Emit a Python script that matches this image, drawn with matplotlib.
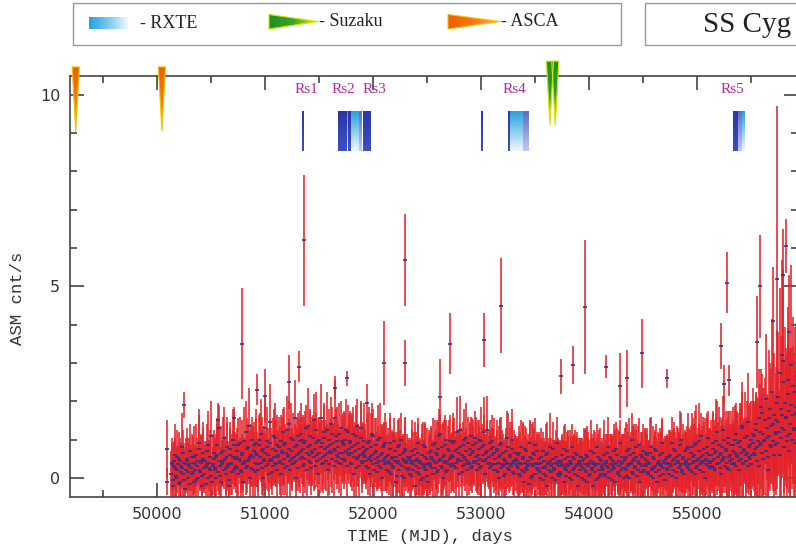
import numpy as np
import matplotlib
matplotlib.use('Agg')
import matplotlib.pyplot as plt
from matplotlib.colors import LinearSegmentedColormap
from matplotlib.patches import Rectangle, Polygon
from matplotlib.ticker import MultipleLocator

# ---------------- data ----------------
t_start = 50130   # MJD of first sample of series A
t_start_b = 50135 # MJD of first sample of series B (interleaved)
t_step = 10       # days between samples within a series

rate_rows = [
    [0.1, 0.4, -0.2, 0.3, 0.6, 0.0, 0.2, 0.5, -0.1, 0.3, 0.8, 0.1, 0.4, -0.3, 0.2, 0.5, 0.0, 0.3, 0.7, 0.1],
    [0.4, -0.1, 0.2, 0.6, 0.3, 0.0, 0.9, 0.2, 0.4, -0.2, 0.5, 0.1, 0.3, 0.7, 0.0, 0.4, 0.2, 1.1, -0.1, 0.3],
    [0.5, 0.2, 0.0, 0.6, 1.3, 0.3, -0.1, 0.4, 0.7, 0.2, 0.5, 0.1, 0.8, 0.3, -0.2, 0.6, 0.4, 1.0, 0.2, 0.5],
    [0.3, 0.7, 0.1, 0.5, 0.9, 0.2, 0.6, -0.1, 0.4, 1.2, 0.3, 0.8, 0.5, 0.0, 0.6, 1.0, 0.2, 0.7, 0.4, 0.9],
    [0.6, 0.2, 1.0, 0.4, 0.7, 0.0, 0.5, 1.3, 0.3, 0.8, 0.6, 0.1, 0.9, 0.5, 0.3, 1.1, 0.4, 0.7, 0.2, 0.6],
    [0.8, 0.4, 0.1, 0.7, 1.2, 0.5, 0.9, 0.3, 0.6, 1.4, 0.2, 0.7, 0.5, 1.0, 0.4, 0.8, 0.0, 0.6, 1.1, 0.5],
    [0.7, 1.0, 0.3, 0.9, 0.5, 1.3, 0.2, 0.8, 0.6, 1.1, 0.4, 0.7, 1.5, 0.3, 0.9, 0.6, 0.1, 1.0, 0.5, 0.8],
    [0.9, 0.4, 1.2, 0.6, 0.8, 0.2, 1.0, 0.7, 1.4, 0.5, 0.9, 0.3, 0.7, 1.1, 0.6, 0.8, 0.4, 1.3, 0.5, 0.9],
    [0.5, 1.0, 0.7, 0.3, 1.2, 0.6, 0.9, 0.4, 0.8, 0.1, 0.7, 1.1, 0.5, 0.9, 0.3, 0.6, 1.3, 0.4, 0.8, 0.6],
    [0.7, 0.3, 0.9, 0.5, 0.1, 0.8, 0.6, 1.1, 0.2, 0.5, 0.7, 0.4, 1.0, 0.3, 0.6, 0.0, 0.8, 0.5, 0.9, 0.4],
    [0.2, 0.6, 0.4, 0.9, 0.1, 0.5, 0.3, 0.7, -0.1, 0.4, 0.8, 0.2, 0.6, 1.0, 0.3, 0.5, 0.0, 0.7, 0.4, 0.2],
    [0.5, 0.1, 0.4, 0.7, 0.2, 0.6, -0.2, 0.3, 0.5, 0.9, 0.1, 0.4, 0.6, 0.0, 0.3, 0.8, 0.2, 0.5, -0.1, 0.4],
    [0.3, 0.7, 0.5, 0.1, 0.9, 0.4, 0.6, 0.2, 1.1, 0.5, 0.3, 0.8, 0.0, 0.6, 0.4, 1.0, 0.2, 0.7, 0.5, 0.3],
    [0.6, 0.9, 0.3, 0.7, 0.4, 1.2, 0.5, 0.1, 0.8, 0.6, 0.3, 1.0, 0.5, 0.7, 0.2, 0.9, 0.4, 0.6, 1.1, 0.3],
    [0.7, 0.4, 0.9, 0.2, 0.6, 1.0, 0.5, 0.3, 0.8, 0.6, 1.2, 0.1, 0.5, 0.7, 0.4, 0.9, 0.3, 0.6, 0.8, 0.2],
    [0.5, 0.2, 0.7, 0.4, 0.0, 0.6, 0.9, 0.3, 0.5, 0.1, 0.7, 0.4, 0.8, 0.2, 0.6, 0.3, 1.0, 0.4, 0.1, 0.5],
    [0.3, 0.6, 0.1, 0.4, 0.8, 0.2, 0.5, -0.1, 0.4, 0.7, 0.2, 0.3, 0.9, 0.0, 0.5, 0.3, 0.6, 0.1, 0.4, 0.7],
    [0.2, 0.5, 0.0, 0.4, 0.7, 0.1, 0.3, 0.6, -0.2, 0.4, 0.2, 0.8, 0.3, 0.0, 0.5, 0.2, 0.4, 0.9, 0.1, 0.3],
    [0.4, 0.1, 0.6, 0.3, -0.1, 0.5, 0.2, 0.7, 0.3, 0.0, 0.4, 0.8, 0.2, 0.5, 0.1, 0.3, 0.6, -0.2, 0.4, 0.2],
    [0.3, 0.0, 0.5, 0.2, 0.6, -0.1, 0.3, 0.4, 0.1, 0.7, 0.2, -0.2, 0.4, 0.3, 0.8, 0.0, 0.2, 0.5, 0.1, 0.3],
    [0.2, 0.6, 0.1, 0.4, 0.3, 0.8, 0.0, 0.5, 0.2, 0.3, 0.7, -0.1, 0.4, 0.6, 0.1, 0.3, 0.9, 0.2, 0.4, 0.0],
    [0.5, 0.2, 0.7, 0.3, 0.0, 0.6, 0.4, 1.0, 0.1, 0.5, 0.3, 0.8, 0.2, 0.4, -0.1, 0.6, 0.3, 0.7, 0.2, 0.5],
    [0.3, 0.6, 0.1, 0.4, 0.8, 0.2, 0.0, 0.5, 0.3, 0.7, -0.1, 0.4, 0.2, 0.6, 0.3, 0.9, 0.1, 0.4, 0.5, 0.2],
    [0.4, 0.1, 0.6, 0.3, 0.9, 0.2, 0.5, 0.7, 0.0, 0.4, 0.6, 0.3, 1.0, 0.2, 0.5, 0.1, 0.7, 0.4, 0.3, 0.8],
    [0.5, 0.2, 0.8, 0.4, 0.6, 0.1, 0.9, 0.3, 0.5, 0.7, 0.2, 1.1, 0.4, 0.6, 0.0, 0.5, 0.8, 0.3, 0.6, 0.4],
    [0.6, 0.3, 0.9, 0.5, 0.2, 0.7, 1.2, 0.4, 0.6, 0.1, 0.8, 0.5, 1.0, 0.3, 0.7, 0.4, 0.9, 0.2, 0.6, 0.5],
    [0.7, 0.4, 1.0, 0.3, 0.6, 0.9, 0.2, 0.8, 0.5, 1.3, 0.4, 0.7, 0.6, 1.1, 0.3, 0.8, 0.5, 1.0, 0.6, 0.9],
    [1.1, 0.6, 1.4, 0.8, 0.3, 1.2, 0.9, 1.7, 0.5, 1.0, 1.5, 0.7, 1.3, 0.2, 1.1, 1.8, 0.8, 1.4, 0.6, 1.2],
    [1.5, 0.9, 2.1, 1.2, 0.6, 1.8, 1.3, 2.5, 0.8, 1.6, 1.1, 2.2, 0.7, 1.4, 1.9, 1.0, 2.4, 1.3, 0.9, 1.7],
]

err_rows = [
    [0.6, 0.5, 0.7, 0.6, 0.8, 0.5, 0.6, 0.7, 0.5, 0.6, 0.9, 0.6, 0.5, 0.7, 0.6, 0.8, 0.5, 0.6, 0.7, 0.6],
    [0.7, 0.5, 0.6, 0.8, 0.5, 0.6, 0.9, 0.5, 0.7, 0.6, 0.8, 0.5, 0.6, 0.7, 0.5, 0.6, 0.8, 0.9, 0.6, 0.5],
    [0.6, 0.7, 0.5, 0.8, 0.6, 0.5, 0.7, 0.6, 0.9, 0.5, 0.6, 0.7, 0.8, 0.5, 0.6, 0.7, 0.6, 0.8, 0.5, 0.7],
    [0.7, 0.6, 0.8, 0.5, 0.7, 0.6, 0.9, 0.6, 0.5, 0.8, 0.7, 0.6, 0.5, 0.7, 0.8, 0.6, 0.7, 0.5, 0.6, 0.9],
    [0.6, 0.8, 0.7, 0.5, 0.9, 0.6, 0.7, 0.8, 0.6, 0.5, 0.7, 0.9, 0.6, 0.8, 0.5, 0.7, 0.6, 0.8, 0.7, 0.6],
    [0.8, 0.6, 0.7, 0.9, 0.6, 0.7, 0.5, 0.8, 0.7, 0.6, 0.9, 0.6, 0.8, 0.7, 0.5, 0.6, 0.8, 0.7, 0.6, 0.9],
    [0.7, 0.6, 0.8, 0.7, 0.9, 0.6, 0.7, 0.5, 0.8, 0.7, 0.6, 0.9, 0.7, 0.6, 0.8, 0.5, 0.7, 0.6, 0.9, 0.7],
    [0.6, 0.8, 0.7, 0.9, 0.6, 0.7, 0.8, 0.6, 0.7, 0.9, 0.5, 0.8, 0.6, 0.7, 0.9, 0.6, 0.8, 0.7, 0.6, 0.8],
    [0.8, 0.7, 0.6, 0.9, 0.7, 0.5, 0.8, 0.6, 0.9, 0.7, 0.6, 0.8, 0.7, 0.5, 0.9, 0.6, 0.7, 0.8, 0.6, 0.7],
    [0.7, 0.6, 0.8, 0.5, 0.7, 0.9, 0.6, 0.7, 0.8, 0.6, 0.5, 0.7, 0.9, 0.6, 0.8, 0.7, 0.6, 0.5, 0.8, 0.7],
    [0.6, 0.7, 0.5, 0.8, 0.6, 0.7, 0.9, 0.5, 0.6, 0.8, 0.7, 0.6, 0.5, 0.7, 0.8, 0.6, 0.7, 0.9, 0.5, 0.6],
    [0.5, 0.7, 0.6, 0.8, 0.5, 0.6, 0.7, 0.9, 0.6, 0.5, 0.7, 0.6, 0.8, 0.5, 0.7, 0.6, 0.5, 0.8, 0.6, 0.7],
    [0.7, 0.6, 0.5, 0.8, 0.6, 0.7, 0.9, 0.6, 0.7, 0.5, 0.8, 0.6, 0.7, 0.9, 0.6, 0.5, 0.7, 0.8, 0.6, 0.7],
    [0.6, 0.8, 0.7, 0.5, 0.7, 0.9, 0.6, 0.8, 0.6, 0.7, 0.5, 0.8, 0.7, 0.6, 0.9, 0.7, 0.6, 0.8, 0.5, 0.7],
    [0.8, 0.6, 0.7, 0.6, 0.9, 0.5, 0.7, 0.8, 0.6, 0.7, 0.9, 0.6, 0.5, 0.8, 0.7, 0.6, 0.8, 0.7, 0.5, 0.6],
    [0.6, 0.7, 0.8, 0.5, 0.6, 0.9, 0.7, 0.6, 0.5, 0.8, 0.6, 0.7, 0.9, 0.6, 0.7, 0.5, 0.8, 0.6, 0.7, 0.6],
    [0.7, 0.5, 0.6, 0.8, 0.7, 0.6, 0.9, 0.5, 0.7, 0.6, 0.8, 0.7, 0.6, 0.5, 0.9, 0.6, 0.7, 0.8, 0.6, 0.5],
    [0.5, 0.7, 0.6, 0.9, 0.5, 0.7, 0.6, 0.8, 0.6, 0.5, 0.7, 0.9, 0.6, 0.7, 0.5, 0.8, 0.6, 0.7, 0.9, 0.6],
    [0.6, 0.8, 0.5, 0.7, 0.6, 0.9, 0.7, 0.5, 0.8, 0.6, 0.7, 0.6, 0.9, 0.5, 0.7, 0.8, 0.6, 0.7, 0.5, 0.8],
    [0.7, 0.6, 0.8, 0.5, 0.7, 0.6, 0.9, 0.6, 0.7, 0.8, 0.5, 0.7, 0.6, 0.9, 0.6, 0.7, 0.5, 0.8, 0.7, 0.6],
    [0.6, 0.9, 0.7, 0.6, 0.5, 0.8, 0.7, 0.6, 0.9, 0.5, 0.7, 0.8, 0.6, 0.7, 0.5, 0.9, 0.6, 0.8, 0.7, 0.5],
    [0.8, 0.6, 0.7, 0.9, 0.6, 0.5, 0.8, 0.7, 0.6, 0.9, 0.7, 0.6, 0.8, 0.5, 0.7, 0.6, 0.9, 0.7, 0.6, 0.8],
    [0.6, 0.7, 0.9, 0.6, 0.8, 0.5, 0.7, 0.6, 0.9, 0.7, 0.6, 0.8, 0.5, 0.7, 0.9, 0.6, 0.8, 0.7, 0.6, 0.7],
    [0.7, 0.8, 0.6, 0.9, 0.7, 0.6, 0.8, 0.5, 0.7, 0.9, 0.6, 0.8, 0.7, 0.6, 0.9, 0.7, 0.5, 0.8, 0.6, 0.9],
    [0.8, 0.7, 0.9, 0.6, 0.8, 0.7, 1.0, 0.6, 0.8, 0.7, 0.9, 0.6, 0.8, 1.0, 0.7, 0.6, 0.9, 0.8, 0.7, 0.9],
    [0.9, 0.7, 0.8, 1.0, 0.7, 0.9, 0.8, 0.6, 1.0, 0.8, 0.7, 0.9, 1.1, 0.7, 0.8, 0.9, 0.7, 1.0, 0.8, 0.9],
    [0.8, 1.0, 0.9, 0.7, 1.1, 0.8, 0.9, 1.0, 0.7, 1.2, 0.9, 0.8, 1.0, 0.9, 0.7, 1.1, 0.8, 1.0, 0.9, 1.1],
    [0.9, 1.1, 0.8, 1.3, 1.0, 0.9, 1.2, 1.0, 1.4, 0.8, 1.1, 1.3, 0.9, 1.5, 1.0, 1.2, 0.9, 1.6, 1.1, 1.0],
    [1.4, 1.2, 1.7, 1.1, 1.5, 1.9, 1.3, 1.6, 1.2, 1.8, 1.4, 1.7, 1.1, 2.0, 1.5, 1.3, 1.8, 1.4, 1.6, 1.2],
]

rate_rows_b = [
    [0.35, -0.05, 0.45, 0.25, 0.05, 0.55, 0.35, -0.15, 0.45, 0.15, 0.25, 0.65, -0.05, 0.35, 0.45, 0.15, 0.35, -0.15, 0.25, 0.55],
    [0.15, 0.55, 0.35, -0.05, 0.45, 0.75, 0.15, 0.45, 0.05, 0.65, 0.25, 0.45, -0.15, 0.35, 0.85, 0.25, 0.55, 0.05, 0.35, 0.65],
    [0.25, 0.55, 0.85, 0.15, 0.45, 0.05, 0.65, 0.35, 0.45, 1.05, 0.25, 0.55, 0.35, -0.05, 0.75, 0.35, 0.15, 0.55, 0.85, 0.25],
    [0.55, 0.25, 0.85, 0.45, 0.15, 0.65, 0.35, 0.95, 0.45, 0.25, 0.75, 0.45, 1.35, 0.55, 0.25, 0.55, 0.85, 0.15, 0.65, 0.35],
    [0.35, 0.85, 0.55, 1.15, 0.25, 0.75, 0.45, 0.65, 0.95, 0.35, 0.45, 1.45, 0.45, 0.15, 0.75, 0.55, 1.05, 0.35, 0.85, 0.55],
    [0.45, 0.95, 0.65, 0.35, 0.85, 0.25, 0.65, 1.25, 0.55, 0.75, 0.45, 1.05, 0.35, 0.55, 1.55, 0.45, 0.85, 0.25, 0.65, 0.95],
    [1.15, 0.55, 0.75, 0.35, 0.95, 0.65, 1.35, 0.45, 0.85, 0.25, 0.65, 1.05, 0.55, 0.75, 1.25, 0.45, 0.95, 0.65, 1.55, 0.35],
    [0.55, 1.05, 0.75, 0.45, 1.25, 0.65, 0.35, 0.85, 0.65, 1.15, 0.75, 1.55, 0.45, 0.95, 0.55, 1.15, 0.65, 0.35, 0.95, 0.65],
    [0.85, 0.45, 1.25, 0.65, 0.75, 0.95, 0.35, 0.65, 1.15, 0.55, 0.85, 0.25, 1.35, 0.55, 0.75, 1.05, 0.45, 0.65, 0.95, 0.55],
    [0.45, 0.75, 0.25, 0.95, 0.55, 0.45, 1.15, 0.35, 0.65, 0.85, 0.15, 0.55, 0.45, 1.05, 0.25, 0.65, 0.45, 0.85, 0.35, 0.55],
    [0.45, 0.15, 0.75, 0.35, 0.55, 0.25, 0.95, 0.45, 0.55, 0.05, 0.45, 0.85, 0.35, 0.05, 0.65, 0.45, 0.75, 0.25, 0.45, 0.55],
    [0.25, 0.55, 0.05, 0.45, 0.35, 0.75, 0.45, 0.15, 0.65, 0.25, 0.45, -0.05, 0.35, 0.85, 0.25, 0.55, 0.35, 0.05, 0.65, 0.35],
    [0.55, 0.25, 0.85, 0.45, 0.25, 0.65, 0.15, 0.75, 0.45, 1.15, 0.25, 0.55, 0.45, 0.85, 0.15, 0.45, 0.75, 0.35, 0.95, 0.55],
    [0.35, 0.55, 0.95, 0.25, 0.75, 0.45, 0.65, 1.25, 0.45, 0.15, 0.85, 0.55, 0.35, 1.05, 0.45, 0.35, 0.75, 0.25, 0.65, 0.85],
    [0.45, 1.05, 0.55, 0.45, 0.35, 0.75, 0.25, 0.95, 0.45, 0.85, 0.45, 0.65, 1.25, 0.35, 0.55, 0.25, 0.75, 0.95, 0.35, 0.65],
    [0.35, 0.75, 0.15, 0.55, 0.85, 0.25, 0.35, 0.65, 0.05, 0.45, 0.35, 1.05, 0.25, 0.55, 0.35, 0.75, 0.15, 0.45, 0.65, 0.35],
    [0.45, 0.25, 0.65, 0.05, 0.35, 0.55, 0.15, 0.75, 0.25, 0.35, 0.45, -0.15, 0.55, 0.35, 0.05, 0.65, 0.35, 0.85, 0.25, 0.35],
    [0.35, 0.15, 0.55, 0.25, -0.05, 0.45, 0.25, 0.05, 0.65, 0.35, 0.45, 0.15, 0.35, 0.75, 0.25, -0.05, 0.55, 0.35, 0.45, 0.05],
    [0.15, 0.45, 0.35, 0.75, 0.25, 0.05, 0.35, 0.55, 0.15, 0.45, 0.35, -0.05, 0.55, 0.25, 0.65, 0.35, 0.05, 0.45, 0.35, 0.55],
    [0.45, 0.25, -0.05, 0.35, 0.15, 0.55, 0.35, 0.05, 0.45, 0.25, 0.35, 0.65, 0.15, -0.05, 0.35, 0.55, 0.35, 0.05, 0.45, 0.25],
    [0.35, 0.05, 0.45, 0.65, 0.25, 0.15, 0.55, 0.35, -0.05, 0.45, 0.25, 0.35, 0.75, 0.15, 0.45, 0.05, 0.35, 0.55, 0.25, 0.45],
    [0.25, 0.55, 0.05, 0.35, 0.75, 0.35, 0.15, 0.45, 0.65, 0.25, 0.55, 0.05, 0.45, 0.85, 0.35, 0.15, 0.55, 0.15, 0.35, 0.65],
    [0.45, 0.15, 0.35, 0.65, 0.05, 0.25, 0.55, 0.25, 0.75, 0.15, 0.35, 0.45, 0.05, 0.35, 0.65, 0.25, 0.45, -0.05, 0.35, 0.55],
    [0.25, 0.55, 0.35, 0.05, 0.45, 0.75, 0.35, 0.15, 0.55, 0.45, 0.25, 0.85, 0.35, 0.15, 0.55, 0.35, 0.45, 0.75, 0.25, 0.35],
    [0.35, 0.65, 0.15, 0.55, 0.45, 0.85, 0.25, 0.45, 0.95, 0.35, 0.55, 0.45, 0.15, 0.75, 0.45, 0.35, 0.65, 1.05, 0.45, 0.25],
    [0.45, 0.75, 0.25, 0.65, 0.95, 0.35, 0.55, 0.85, 0.25, 0.65, 0.45, 1.25, 0.55, 0.75, 0.25, 1.05, 0.55, 0.45, 0.85, 0.35],
    [0.85, 0.35, 0.65, 1.15, 0.55, 0.45, 0.95, 0.65, 1.35, 0.35, 0.75, 1.05, 0.45, 0.65, 1.45, 0.55, 0.85, 0.35, 1.15, 0.65],
    [0.75, 1.25, 0.45, 0.95, 1.55, 0.85, 1.85, 0.65, 1.15, 0.95, 2.05, 1.05, 0.55, 1.55, 0.85, 1.35, 2.25, 0.95, 1.65, 0.85],
    [1.15, 1.95, 1.45, 2.75, 1.05, 1.65, 3.05, 1.25, 1.95, 1.55, 0.95, 2.55, 1.75, 1.15, 2.95, 1.65, 1.25, 2.25, 1.85, 2.65],
]

err_rows_b = [
    [0.7, 0.6, 0.5, 0.8, 0.6, 0.7, 0.5, 0.9, 0.6, 0.7, 0.5, 0.6, 0.8, 0.7, 0.6, 0.5, 0.7, 0.9, 0.6, 0.6],
    [0.6, 0.8, 0.5, 0.7, 0.6, 0.9, 0.5, 0.7, 0.6, 0.8, 0.6, 0.5, 0.7, 0.6, 0.9, 0.6, 0.7, 0.5, 0.8, 0.6],
    [0.8, 0.6, 0.7, 0.5, 0.9, 0.6, 0.7, 0.6, 0.5, 0.8, 0.7, 0.9, 0.6, 0.5, 0.7, 0.8, 0.6, 0.7, 0.9, 0.5],
    [0.6, 0.9, 0.7, 0.6, 0.8, 0.5, 0.7, 0.9, 0.6, 0.7, 0.8, 0.6, 1.0, 0.7, 0.5, 0.8, 0.6, 0.7, 0.9, 0.6],
    [0.7, 0.8, 0.6, 0.9, 0.7, 0.6, 0.8, 0.5, 0.9, 0.7, 0.6, 1.0, 0.7, 0.6, 0.8, 0.7, 0.9, 0.6, 0.8, 0.7],
    [0.9, 0.7, 0.6, 0.8, 1.0, 0.7, 0.6, 0.9, 0.7, 0.8, 0.6, 0.9, 0.7, 0.6, 1.0, 0.8, 0.7, 0.6, 0.9, 0.8],
    [0.8, 0.7, 0.9, 0.6, 0.8, 0.7, 1.0, 0.6, 0.9, 0.7, 0.8, 0.6, 0.9, 0.8, 1.0, 0.7, 0.6, 0.8, 0.9, 0.7],
    [0.7, 0.9, 0.6, 0.8, 1.0, 0.7, 0.8, 0.6, 0.9, 0.7, 0.8, 1.0, 0.6, 0.9, 0.7, 0.8, 0.6, 0.9, 0.7, 0.8],
    [0.9, 0.6, 0.8, 0.7, 0.9, 0.8, 0.6, 1.0, 0.7, 0.8, 0.6, 0.9, 0.7, 0.8, 0.6, 0.9, 0.7, 0.8, 1.0, 0.7],
    [0.6, 0.8, 0.7, 0.9, 0.6, 0.7, 0.8, 0.6, 0.9, 0.7, 0.5, 0.8, 0.7, 0.9, 0.6, 0.7, 0.8, 0.6, 0.7, 0.9],
    [0.7, 0.6, 0.8, 0.5, 0.7, 0.9, 0.6, 0.7, 0.5, 0.8, 0.6, 0.7, 0.9, 0.6, 0.5, 0.7, 0.8, 0.6, 0.7, 0.5],
    [0.6, 0.5, 0.7, 0.8, 0.6, 0.7, 0.5, 0.6, 0.9, 0.7, 0.6, 0.5, 0.8, 0.6, 0.7, 0.9, 0.5, 0.7, 0.6, 0.8],
    [0.8, 0.6, 0.7, 0.5, 0.9, 0.6, 0.8, 0.7, 0.6, 0.5, 0.7, 0.9, 0.6, 0.8, 0.7, 0.5, 0.6, 0.9, 0.7, 0.6],
    [0.7, 0.9, 0.6, 0.8, 0.5, 0.7, 0.6, 0.9, 0.7, 0.8, 0.6, 0.5, 0.7, 0.9, 0.6, 0.8, 0.7, 0.6, 0.9, 0.5],
    [0.6, 0.7, 0.9, 0.5, 0.8, 0.6, 0.7, 0.9, 0.6, 0.8, 0.7, 0.5, 0.9, 0.6, 0.7, 0.8, 0.5, 0.7, 0.6, 0.9],
    [0.7, 0.5, 0.6, 0.8, 0.7, 0.6, 0.9, 0.5, 0.7, 0.6, 0.8, 0.7, 0.5, 0.9, 0.6, 0.7, 0.6, 0.8, 0.5, 0.7],
    [0.6, 0.8, 0.7, 0.5, 0.6, 0.9, 0.7, 0.6, 0.8, 0.5, 0.7, 0.6, 0.9, 0.7, 0.5, 0.8, 0.6, 0.7, 0.9, 0.6],
    [0.8, 0.6, 0.5, 0.7, 0.9, 0.6, 0.7, 0.5, 0.8, 0.7, 0.6, 0.9, 0.5, 0.7, 0.6, 0.8, 0.7, 0.5, 0.6, 0.9],
    [0.7, 0.5, 0.8, 0.6, 0.7, 0.9, 0.5, 0.7, 0.6, 0.8, 0.6, 0.7, 0.5, 0.9, 0.6, 0.7, 0.8, 0.6, 0.7, 0.5],
    [0.6, 0.7, 0.5, 0.9, 0.6, 0.8, 0.7, 0.5, 0.6, 0.9, 0.7, 0.6, 0.8, 0.5, 0.7, 0.6, 0.9, 0.7, 0.5, 0.8],
    [0.8, 0.6, 0.7, 0.5, 0.9, 0.7, 0.6, 0.8, 0.5, 0.7, 0.6, 0.9, 0.7, 0.6, 0.8, 0.5, 0.7, 0.6, 0.9, 0.7],
    [0.6, 0.9, 0.7, 0.6, 0.8, 0.7, 0.5, 0.9, 0.6, 0.8, 0.7, 0.6, 0.9, 0.7, 0.5, 0.8, 0.6, 0.7, 0.9, 0.6],
    [0.7, 0.8, 0.6, 0.9, 0.7, 0.6, 0.8, 0.7, 0.5, 0.9, 0.6, 0.7, 0.8, 0.6, 0.9, 0.7, 0.6, 0.8, 0.7, 0.6],
    [0.8, 0.7, 0.9, 0.6, 0.8, 0.7, 0.6, 0.9, 0.8, 0.7, 0.6, 0.9, 0.7, 0.8, 0.6, 0.9, 0.7, 0.6, 0.8, 0.7],
    [0.9, 0.7, 0.8, 1.0, 0.7, 0.9, 0.8, 0.7, 1.0, 0.8, 0.7, 0.9, 0.8, 0.7, 1.1, 0.8, 0.9, 0.7, 0.8, 1.0],
    [0.8, 1.0, 0.9, 0.7, 1.1, 0.8, 0.9, 1.0, 0.8, 0.7, 1.1, 0.9, 0.8, 1.0, 0.9, 0.7, 1.2, 0.8, 0.9, 1.0],
    [1.0, 0.9, 1.1, 0.8, 1.2, 0.9, 1.0, 1.3, 0.9, 1.1, 0.8, 1.2, 1.0, 0.9, 1.3, 1.0, 1.1, 0.9, 1.2, 1.0],
    [1.2, 1.0, 1.4, 1.1, 1.3, 1.6, 1.0, 1.5, 1.2, 1.4, 1.7, 1.1, 1.3, 1.8, 1.2, 1.5, 1.9, 1.3, 1.6, 1.2],
    [1.6, 1.9, 1.4, 2.2, 1.7, 1.5, 2.4, 1.8, 2.0, 1.6, 2.3, 1.9, 1.5, 2.1, 2.6, 1.8, 2.0, 1.7, 2.2, 1.9],
]

# outbursts / isolated points (MJD, rate, error)
spike_t = [50090, 50092, 50247, 50565, 50716, 50787, 50929, 50997, 51219, 51318, 51364,
           51648, 51759, 51944, 52105, 52296, 52299, 52617, 52710, 53031, 53182, 53741,
           53855, 53960, 54157, 54284, 54352, 54494, 54722, 55219, 55250, 55275, 55300,
           55555, 55580, 55700, 55744, 55790, 55800, 55821, 55850]
spike_v = [0.75, -0.1, 1.9, 1.5, 1.55, 3.5, 2.3, 2.15, 2.5, 2.9, 6.2,
           2.35, 2.6, 1.95, 3.0, 3.0, 5.7, 2.1, 3.5, 3.6, 4.5, 2.65,
           2.95, 4.45, 2.9, 2.4, 2.6, 3.25, 2.6, 3.45, 2.45, 5.1, 2.55,
           3.55, 5.0, 4.1, 5.2, 3.2, 5.3, 6.05, 3.8]
spike_e = [0.75, 0.35, 0.35, 0.45, 0.3, 1.45, 0.4, 0.7, 0.7, 0.4, 1.7,
           0.3, 0.2, 0.5, 1.1, 0.6, 1.2, 1.0, 0.8, 0.7, 1.25, 0.45,
           0.5, 1.75, 0.3, 0.85, 0.75, 0.9, 0.25, 0.6, 0.5, 0.8, 0.4,
           1.2, 1.35, 1.4, 4.5, 2.5, 1.2, 0.7, 1.5]

# RXTE pointed observations
rxte_start = [51345, 51673, 51756, 51772, 51793, 51870, 51904, 53003, 53253, 53269, 53386, 55336, 55383, 55414]
rxte_end   = [51358, 51756, 51772, 51793, 51870, 51895, 51972, 53016, 53269, 53386, 53438, 55383, 55414, 55435]
rxte_shade = ['dark', 'dark', 'light', 'dark', 'light', 'mid', 'dark', 'dark', 'dark', 'light', 'mid', 'dark', 'mid', 'light']
rs_labels = ['Rs1', 'Rs2', 'Rs3', 'Rs4', 'Rs5']
rs_t = [51384, 51729, 52009, 53310, 55332]

asca_t = [49248, 50046]
suzaku_t = [53639, 53688]

x_ticks = [50000, 51000, 52000, 53000, 54000, 55000]
y_ticks = [0, 5, 10]

# ---------------- styling ----------------
W, H = 796, 552
fig = plt.figure(figsize=(W / 100, H / 100), dpi=100)
ax = fig.add_axes([70 / W, 1 - 497 / H, (797.5 - 70) / W, (497 - 75.7) / H])

red = '#e3232b'
navy = '#30308a'
mono = 'Liberation Mono'
serif = 'Liberation Serif'

rate_a = np.concatenate([np.array(r, float) for r in rate_rows])
err_a = np.concatenate([np.array(e, float) for e in err_rows])
t_a = t_start + t_step * np.arange(len(rate_a))
rate_b = np.concatenate([np.array(r, float) for r in rate_rows_b])
err_b = np.concatenate([np.array(e, float) for e in err_rows_b])
t_b = t_start_b + t_step * np.arange(len(rate_b))

T = np.concatenate([t_a, t_b, spike_t])
V = np.concatenate([rate_a, rate_b, spike_v])
E = np.concatenate([err_a, err_b, spike_e])

ax.errorbar(T, V, yerr=E, fmt='none', ecolor=red, elinewidth=1.3, capsize=0, alpha=0.88, zorder=2)
ax.plot(T, V, ls='none', marker='_', ms=2.6, mew=1.3, color=navy, alpha=0.9, zorder=3)

shade_cols = {'dark': ('#2a37a6', '#3b4fc4'),
              'light': ('#27a2df', '#eef8fd'),
              'mid': ('#5d6cc6', '#c3c9ee')}
y_lo, y_hi = 8.53, 9.55
grad = np.linspace(0, 1, 64).reshape(-1, 1)
for s, e, k in zip(rxte_start, rxte_end, rxte_shade):
    cm = LinearSegmentedColormap.from_list(k, list(shade_cols[k]))
    ax.imshow(grad, cmap=cm, extent=(s, e, y_lo, y_hi), aspect='auto',
              interpolation='bilinear', zorder=4)

for lab, tt in zip(rs_labels, rs_t):
    ax.text(tt, 10.15, lab, color='#b52a9c', fontsize=11, family=serif,
            ha='center', va='center', zorder=5)


def grad_triangle(axx, verts, colors, vertical, edge, clip_fig=False):
    poly = Polygon(verts, closed=True, transform=axx.transData)
    xs = [v[0] for v in verts]
    ys = [v[1] for v in verts]
    img = np.linspace(0, 1, 128).reshape(-1, 1) if vertical else np.linspace(0, 1, 128).reshape(1, -1)
    cm = LinearSegmentedColormap.from_list('g', colors)
    im = axx.imshow(img, cmap=cm, extent=(min(xs), max(xs), min(ys), max(ys)),
                    aspect='auto', interpolation='bilinear', zorder=6)
    im.set_clip_path(poly)
    if clip_fig:
        im.set_clip_box(fig.bbox)
    outline = Polygon(verts, closed=True, fill=False, ec=edge, lw=0.8,
                      transform=axx.transData, zorder=7, clip_on=False)
    axx.add_patch(outline)


half = 33
for tt in asca_t:
    grad_triangle(ax, [(tt - half, 10.73), (tt + half, 10.73), (tt, 9.04)],
                  ['#f25c00', '#f47a00', '#ffe000'], True, '#f3c200', clip_fig=True)
for tt in suzaku_t:
    grad_triangle(ax, [(tt - half, 10.88), (tt + half, 10.88), (tt, 9.2)],
                  ['#1f8f1f', '#2aa02a', '#f2f000'], True, '#d8e000', clip_fig=True)

ax.set_xlim(49195, 55931)
ax.set_ylim(-0.5, 10.5)
ax.set_xticks(x_ticks)
ax.set_yticks(y_ticks)
ax.xaxis.set_minor_locator(MultipleLocator(500))
ax.yaxis.set_minor_locator(MultipleLocator(1))
ax.tick_params(which='both', direction='in', top=True, right=True, color='#333333',
               width=1.1, labelsize=11.5, labelcolor='#333333', pad=7)
ax.tick_params(which='major', length=10)
ax.tick_params(which='minor', length=5)
for sp in ax.spines.values():
    sp.set_color('#444444')
    sp.set_linewidth(1.2)

fig.text(430 / W, 1 - 537 / H, 'TIME (MJD), days', family=mono, fontsize=12.5,
         color='#333333', ha='center', va='center')
fig.text(18 / W, 1 - 298 / H, 'ASM cnt/s', family=mono, fontsize=12.5,
         color='#333333', ha='center', va='center', rotation=90)

# ---------------- legend strip (figure pixel coordinates) ----------------
ov = fig.add_axes([0, 0, 1, 1], zorder=10)
ov.patch.set_alpha(0)
ov.add_patch(Rectangle((73, 3), 548, 42, fill=False, ec='#9a9a9a', lw=1))
ov.add_patch(Rectangle((645, 3), 170, 42, fill=False, ec='#9a9a9a', lw=1))
cm_rx = LinearSegmentedColormap.from_list('rx', ['#27a2df', '#7cc8ee', '#eef8fd'])
ov.imshow(np.linspace(0, 1, 64).reshape(1, -1), cmap=cm_rx, extent=(89, 128, 29, 17),
          aspect='auto', interpolation='bilinear')
ov.text(140, 23, '- RXTE', family=serif, fontsize=13, color='#222222', va='center', ha='left')
grad_triangle(ov, [(269, 14.5), (269, 29), (318, 21.5)], ['#1f8f1f', '#39a62a', '#f2f000'],
              False, '#d8e000')
ov.text(319, 22, '- Suzaku', family=serif, fontsize=13, color='#222222', va='center', ha='left')
grad_triangle(ov, [(448, 14.5), (448, 29), (500, 21.5)], ['#f25c00', '#f77a10', '#ffb060'],
              False, '#f3c200')
ov.text(501, 22, '- ASCA', family=serif, fontsize=13, color='#222222', va='center', ha='left')
ov.text(703, 25, 'SS Cyg', family=serif, fontsize=21, color='#222222', va='center', ha='left')
ov.set_xlim(0, W)
ov.set_ylim(H, 0)
ov.axis('off')

fig.savefig('out.png', dpi=100)
